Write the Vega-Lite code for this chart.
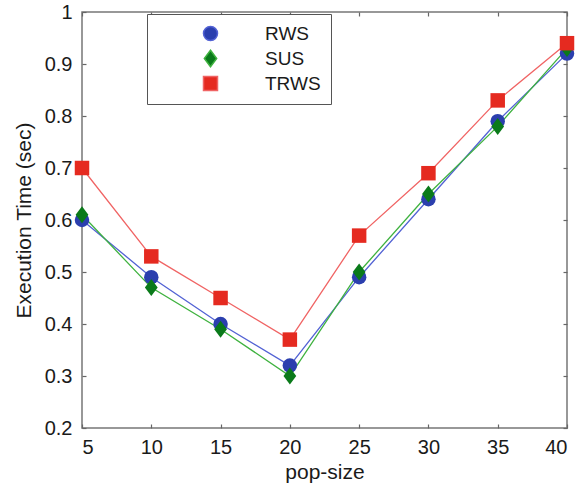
{
  "$schema": "https://vega.github.io/schema/vega-lite/v6.json",
  "width": 485,
  "height": 416,
  "autosize": {"type": "none"},
  "padding": {"left": 82, "top": 12, "right": 14, "bottom": 63},
  "background": "white",
  "config": {
    "font": "Liberation Sans",
    "view": {"stroke": "#777", "strokeWidth": 1.5},
    "axis": {
      "grid": false,
      "domain": false,
      "tickColor": "#666",
      "tickSize": -4,
      "tickWidth": 1.2,
      "labelFontSize": 20,
      "labelColor": "#1a1a1a",
      "titleFontSize": 21,
      "titleFontWeight": "normal",
      "titleColor": "#1a1a1a",
      "labelFont": "Liberation Sans",
      "titleFont": "Liberation Sans"
    }
  },
  "data": {
    "values": [
      {"pop": 5, "method": "RWS", "time": 0.60},
      {"pop": 10, "method": "RWS", "time": 0.49},
      {"pop": 15, "method": "RWS", "time": 0.40},
      {"pop": 20, "method": "RWS", "time": 0.32},
      {"pop": 25, "method": "RWS", "time": 0.49},
      {"pop": 30, "method": "RWS", "time": 0.64},
      {"pop": 35, "method": "RWS", "time": 0.79},
      {"pop": 40, "method": "RWS", "time": 0.92},
      {"pop": 5, "method": "SUS", "time": 0.61},
      {"pop": 10, "method": "SUS", "time": 0.47},
      {"pop": 15, "method": "SUS", "time": 0.39},
      {"pop": 20, "method": "SUS", "time": 0.30},
      {"pop": 25, "method": "SUS", "time": 0.50},
      {"pop": 30, "method": "SUS", "time": 0.65},
      {"pop": 35, "method": "SUS", "time": 0.78},
      {"pop": 40, "method": "SUS", "time": 0.93},
      {"pop": 5, "method": "TRWS", "time": 0.70},
      {"pop": 10, "method": "TRWS", "time": 0.53},
      {"pop": 15, "method": "TRWS", "time": 0.45},
      {"pop": 20, "method": "TRWS", "time": 0.37},
      {"pop": 25, "method": "TRWS", "time": 0.57},
      {"pop": 30, "method": "TRWS", "time": 0.69},
      {"pop": 35, "method": "TRWS", "time": 0.83},
      {"pop": 40, "method": "TRWS", "time": 0.94}
    ]
  },
  "resolve": {"scale": {"x": "independent", "y": "independent"}},
  "layer": [
    {
      "mark": {"type": "line", "strokeWidth": 1.3},
      "encoding": {
        "x": {"field": "pop", "type": "quantitative", "scale": {"domain": [5, 40], "nice": false, "zero": false},
              "axis": {"orient": "bottom", "values": [5, 10, 15, 20, 25, 30, 35, 40], "title": "pop-size", "labelPadding": 13, "titlePadding": 4}},
        "y": {"field": "time", "type": "quantitative", "scale": {"domain": [0.2, 1], "nice": false, "zero": false},
              "axis": {"orient": "left", "values": [0.2, 0.3, 0.4, 0.5, 0.6, 0.7, 0.8, 0.9, 1], "format": "~g", "title": "Execution Time (sec)", "labelPadding": 14, "titlePadding": 10}},
        "color": {
          "field": "method", "type": "nominal",
          "scale": {"domain": ["RWS", "SUS", "TRWS"], "range": ["#5262d4", "#3fb23f", "#f06464"]},
          "legend": {
            "title": null,
            "orient": "none",
            "legendX": 65,
            "legendY": 2,
            "direction": "vertical",
            "fillColor": "white",
            "strokeColor": "#555",
            "padding": 10,
            "symbolSize": 196,
            "symbolOffset": 44,
            "labelFontSize": 19,
            "labelColor": "#1a1a1a",
            "labelOffset": 45,
            "rowPadding": 3
          }
        }
      }
    },
    {
      "mark": {"type": "point", "filled": true, "size": 210, "opacity": 1, "strokeWidth": 0},
      "encoding": {
        "x": {"field": "pop", "type": "quantitative", "scale": {"domain": [5, 40], "nice": false, "zero": false}, "axis": null},
        "y": {"field": "time", "type": "quantitative", "scale": {"domain": [0.2, 1], "nice": false, "zero": false}, "axis": null},
        "shape": {"field": "method", "type": "nominal", "scale": {"domain": ["RWS", "SUS", "TRWS"], "range": ["circle", "M0,-1.17L0.88,0L0,1.17L-0.88,0Z", "square"]}, "legend": null},
        "fill": {"field": "method", "type": "nominal", "scale": {"domain": ["RWS", "SUS", "TRWS"], "range": ["#2b3fae", "#0a7a1a", "#e52a20"]}, "legend": null}
      }
    },
    {
      "mark": {"type": "point", "opacity": 0},
      "encoding": {
        "x": {"field": "pop", "type": "quantitative", "scale": {"domain": [5, 40], "nice": false, "zero": false},
              "axis": {"orient": "top", "values": [5, 10, 15, 20, 25, 30, 35, 40], "labels": false, "title": null}},
        "y": {"field": "time", "type": "quantitative", "scale": {"domain": [0.2, 1], "nice": false, "zero": false},
              "axis": {"orient": "right", "values": [0.2, 0.3, 0.4, 0.5, 0.6, 0.7, 0.8, 0.9, 1], "labels": false, "title": null}}
      }
    }
  ]
}
